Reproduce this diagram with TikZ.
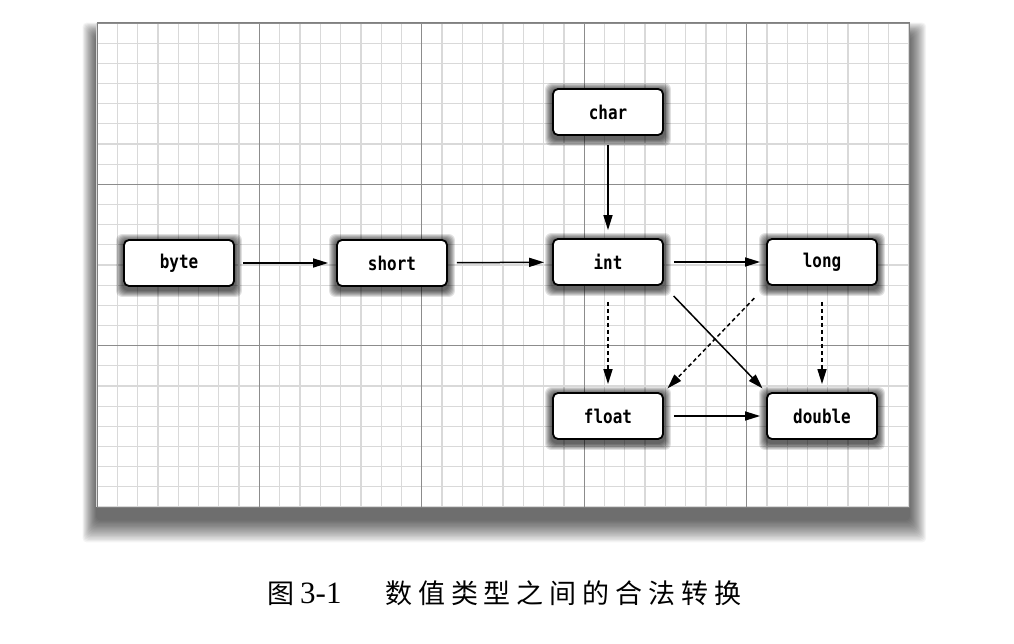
\documentclass[tikz,border=0pt]{standalone}
\usepackage{fontspec}
\newfontfamily\boxfont{DejaVu Sans Mono}[FakeStretch=0.84]
\newfontfamily\cjk{Noto Sans CJK SC}[LetterSpace=22]
\newfontfamily\cjkplain{Noto Sans CJK SC}
\newfontfamily\capnum{Liberation Serif}
\usetikzlibrary{arrows.meta}
\pgfdeclarelayer{back}
\pgfdeclarelayer{bg}
\pgfsetlayers{back,bg,main}
\begin{document}
\begin{tikzpicture}[x=1pt,y=-1pt,
  tbox/.style={draw=black, line width=1.8pt, fill=white, rounded corners=5pt,
    minimum width=110pt, minimum height=46pt, inner sep=0pt,
    font=\boxfont\bfseries\fontsize{19}{19}\selectfont},
  conv/.style={line width=1.5pt, -{Triangle[length=15pt,width=9pt]}},
  lossy/.style={conv, dash pattern=on 4pt off 3pt},
  minorline/.style={draw=black!15, line width=1.3pt},
  majorline/.style={draw=black!45, line width=0.9pt},
  capcjk/.style={inner sep=0pt, anchor=base west, font=\cjk\fontsize{27}{27}\selectfont},
  capnumber/.style={inner sep=0pt, anchor=base west, font=\capnum\fontsize{31}{31}\selectfont}]
\useasboundingbox (0,0) rectangle (1014,644);

% panel with shadow and grid
\begin{pgfonlayer}{back}
  \fill[white] (0,0) rectangle (1014,644);
  \foreach \i in {1,...,18} {
    \fill[black, opacity=0.042, rounded corners=4pt]
      ({97-\i*0.8},{23+14-\i*0.8}) rectangle ({909+\i*0.95},{507+12+\i*1.3});
  }
  \fill[white] (97,23) rectangle (909,507);
  \foreach \i in {0,...,40} {
    \pgfmathsetmacro\xx{97+\i*20.3}
    \draw[minorline] (\xx,23) -- (\xx,507);
  }
  \foreach \j in {0,...,24} {
    \pgfmathsetmacro\yy{23+\j*20.1667}
    \draw[minorline] (97,\yy) -- (909,\yy);
  }
  \foreach \i in {0,8,...,40} {
    \pgfmathsetmacro\xx{97+\i*20.3}
    \draw[majorline] (\xx,23) -- (\xx,507);
  }
  \foreach \j in {0,8,...,24} {
    \pgfmathsetmacro\yy{23+\j*20.1667}
    \draw[majorline] (97,\yy) -- (909,\yy);
  }
  \draw[black!50, line width=1pt] (97,23) rectangle (909,507);
\end{pgfonlayer}

% type boxes
\node[tbox] (char)   at (608,112) {char};
\node[tbox] (byte)   at (179,263) {byte};
\node[tbox] (short)  at (392,263) {short};
\node[tbox] (int)    at (608,262) {int};
\node[tbox] (long)   at (822,262) {long};
\node[tbox] (float)  at (608,416) {float};
\node[tbox] (double) at (822,416) {double};

% box shadows
\begin{pgfonlayer}{bg}
  \foreach \n in {char,byte,short,int,long,float,double} {
    \foreach \i in {1,...,7} {
      \fill[black, opacity=0.12, rounded corners=6pt]
        ([shift={({-\i pt},{-\i pt-3pt})}]\n.south west) rectangle
        ([shift={({\i pt},{\i pt-2pt})}]\n.north east);
    }
  }
\end{pgfonlayer}

% conversions
\draw[conv, shorten <=8pt, shorten >=8pt] (byte) -- (short);
\draw[conv, shorten <=9pt, shorten >=8pt] (short) -- (int);
\draw[conv, shorten <=10pt, shorten >=6pt] (int) -- (long);
\draw[conv, shorten <=9pt, shorten >=8pt] (char) -- (int);
\draw[conv, shorten <=10pt, shorten >=6pt] (float) -- (double);
\draw[conv, shorten <=14pt, shorten >=5pt] (int.south east) -- (double.north west);
\draw[lossy, shorten <=16pt, shorten >=8pt] (int.south) -- (float.north);
\draw[lossy, shorten <=16pt, shorten >=8pt] (long.south) -- (double.north);
\draw[lossy, shorten <=17pt, shorten >=5pt] (long.south west) -- (float.north east);

% caption
\node[capcjk] (figword) at (267,603) {\cjkplain 图};
\node[capnumber] (fignum) at (300,603) {3-1};
\node[capcjk] (figtitle) at (385,603) {数值类型之间的合法转换};
\end{tikzpicture}
\end{document}
